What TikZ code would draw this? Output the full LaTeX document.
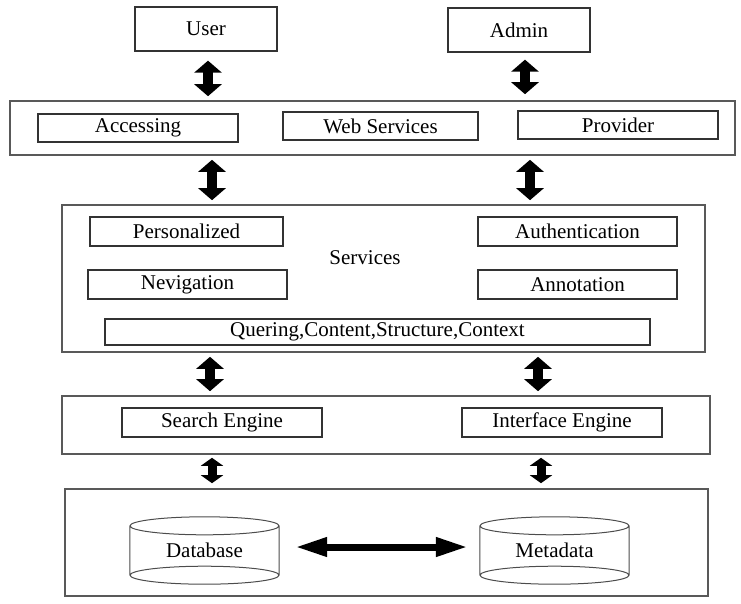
\documentclass[tikz,border=0pt]{standalone}
\usepackage{fontspec}
\setmainfont{Liberation Serif}
\usetikzlibrary{arrows.meta}

\tikzset{
  lbox/.style={draw=black!80, line width=1.3pt, inner sep=0pt, font=\fontsize{21}{24}\selectfont},
  layer/.style={draw=black!65, line width=1.6pt, inner sep=0pt},
  updown/.style={line width=10pt, {Triangle[width=27pt,length=12pt]}-{Triangle[width=27pt,length=12pt]}},
  smallupdown/.style={line width=9pt, {Triangle[width=22pt,length=8pt]}-{Triangle[width=22pt,length=8pt]}},
  sidearrow/.style={line width=7pt, {Triangle[width=18pt,length=32pt]}-{Triangle[width=18pt,length=32pt]}},
  dbnode/.style={inner sep=0pt, minimum width=149pt, minimum height=49pt, font=\fontsize{21}{24}\selectfont},
  cylline/.style={draw=black!70, line width=1pt}
}

\begin{document}
\begin{tikzpicture}[x=1pt,y=-1pt]
    \useasboundingbox (0,0) rectangle (741,603);

    % layers
    \node[layer, minimum width=725pt, minimum height=54pt] (top) at (372.5,128) {};
    \node[layer, minimum width=643pt, minimum height=147pt] (srv) at (383.5,278.5) {};
    \node[layer, minimum width=648pt, minimum height=58pt] (eng) at (386,425) {};
    \node[layer, minimum width=643pt, minimum height=107pt] (store) at (386.5,542.5) {};

    % top boxes
    \node[lbox, minimum width=142pt, minimum height=44pt] (user) at (206,29) {User};
    \node[lbox, minimum width=142pt, minimum height=44pt] (admin) at (519,30) {Admin};

    \node[lbox, minimum width=200pt, minimum height=28pt] (acc) at (138,128) {Accessing};
    \node[lbox, minimum width=195pt, minimum height=28pt] (web) at (380.5,126) {Web Services};
    \node[lbox, minimum width=200pt, minimum height=28pt] (prov) at (618,125) {Provider};

    % services
    \node[lbox, minimum width=193pt, minimum height=29pt] (pers) at (186.5,231.5) {Personalized};
    \node[lbox, minimum width=199pt, minimum height=29pt] (auth) at (577.5,231.5) {Authentication};
    \node[font=\fontsize{21}{24}\selectfont] (srvtxt) at (365,258) {Services};
    \node[lbox, minimum width=199pt, minimum height=29pt] (nev) at (187.5,284.5) {Nevigation};
    \node[lbox, minimum width=199pt, minimum height=29pt] (anno) at (577.5,284.5) {Annotation};
    \node[lbox, minimum width=545pt, minimum height=26pt] (query) at (377.5,332) {Quering,Content,Structure,Context};

    % engines
    \node[lbox, minimum width=200pt, minimum height=29pt] (search) at (222,422.5) {Search Engine};
    \node[lbox, minimum width=200pt, minimum height=29pt] (inter) at (562,422.5) {Interface Engine};

    % storage
    \node[dbnode] (db) at (204.5,550.5) {Database};
    \draw[cylline] (db.north) ellipse (74.5 and 9) (db.south) ellipse (74.5 and 9)
        (db.north west) -- (db.south west) (db.north east) -- (db.south east);
    \node[dbnode] (meta) at (554.5,550.5) {Metadata};
    \draw[cylline] (meta.north) ellipse (74.5 and 9) (meta.south) ellipse (74.5 and 9)
        (meta.north west) -- (meta.south west) (meta.north east) -- (meta.south east);

    % arrows
    \draw[updown, shorten <=9pt, shorten >=4pt] (user.south -| 208,0) -- (top.north -| 208,0);
    \draw[updown, shorten <=7pt, shorten >=6pt] (admin.south -| 525,0) -- (top.north -| 525,0);
    \draw[updown, shorten <=4pt, shorten >=4pt] (top.south -| 212,0) -- (srv.north -| 212,0);
    \draw[updown, shorten <=4pt, shorten >=4pt] (top.south -| 530,0) -- (srv.north -| 530,0);
    \draw[updown, shorten <=4pt, shorten >=4pt] (srv.south -| 210,0) -- (eng.north -| 210,0);
    \draw[updown, shorten <=4pt, shorten >=4pt] (srv.south -| 538,0) -- (eng.north -| 538,0);
    \draw[smallupdown, shorten <=3pt, shorten >=5pt] (eng.south -| 212,0) -- (store.north -| 212,0);
    \draw[smallupdown, shorten <=3pt, shorten >=5pt] (eng.south -| 541,0) -- (store.north -| 541,0);
    \draw[sidearrow, shorten <=16pt, shorten >=12pt] ([yshift=3.5pt]db.east) -- ([yshift=3.5pt]meta.west);

\end{tikzpicture}
\end{document}
